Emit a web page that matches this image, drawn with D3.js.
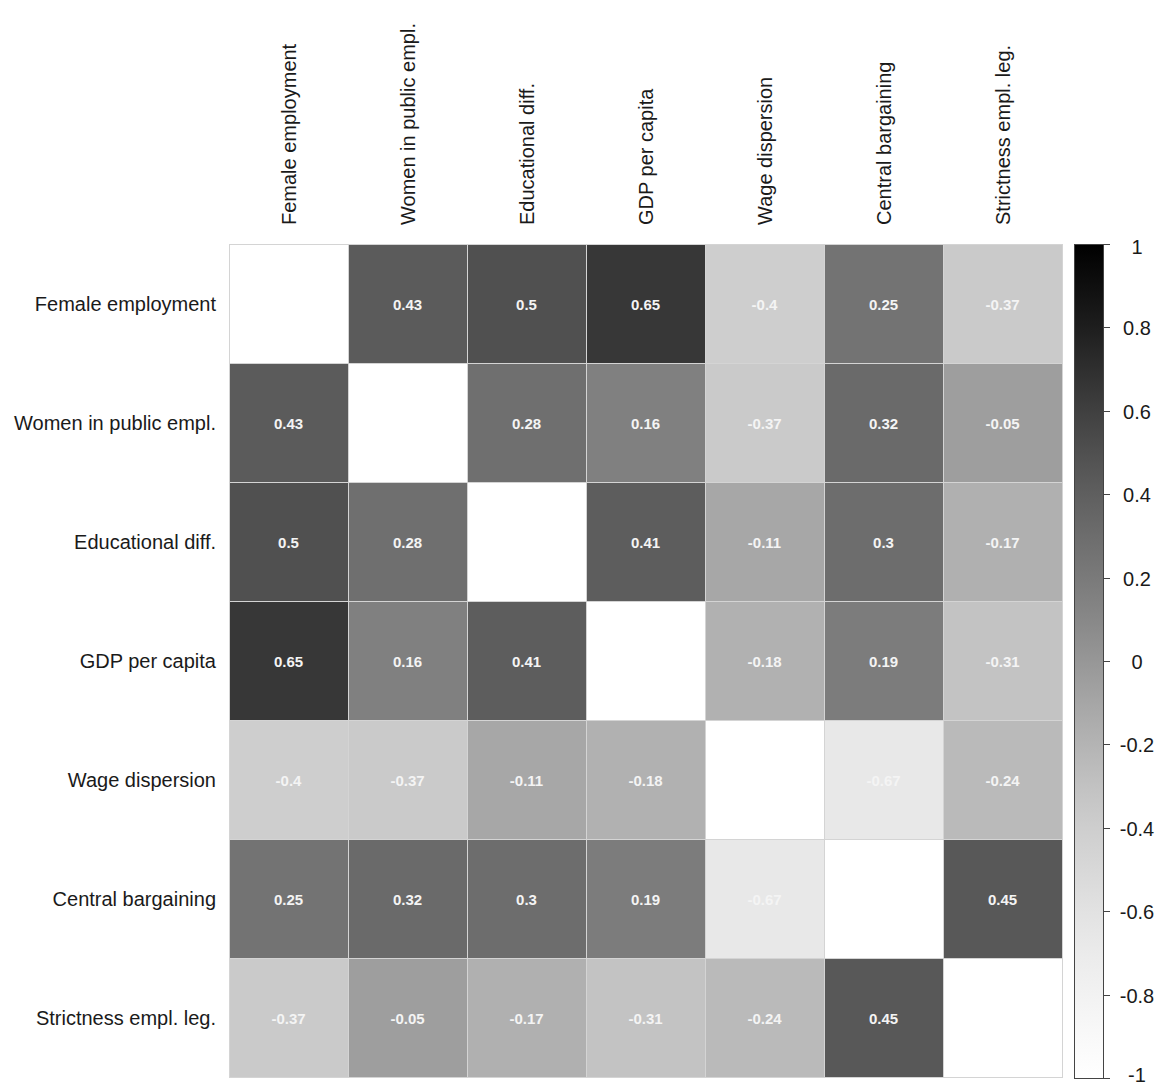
<!DOCTYPE html>
<html>
<head>
<meta charset="utf-8">
<script src="https://cdn.jsdelivr.net/npm/d3@7"></script>
<style>
  html, body { margin: 0; padding: 0; background: #fff; }
  svg { display: block; font-family: "Liberation Sans", Arial, sans-serif; }
</style>
</head>
<body>
<svg id="chart" width="1161" height="1086"></svg>
<script>
// Variables in the correlation matrix (same order for rows and columns)
const variables = [
  "Female employment",
  "Women in public empl.",
  "Educational diff.",
  "GDP per capita",
  "Wage dispersion",
  "Central bargaining",
  "Strictness empl. leg."
];

// Pairwise correlations; null on the diagonal (left blank)
const corr = [
  [null, 0.43, 0.5, 0.65, -0.4, 0.25, -0.37],
  [0.43, null, 0.28, 0.16, -0.37, 0.32, -0.05],
  [0.5, 0.28, null, 0.41, -0.11, 0.3, -0.17],
  [0.65, 0.16, 0.41, null, -0.18, 0.19, -0.31],
  [-0.4, -0.37, -0.11, -0.18, null, -0.67, -0.24],
  [0.25, 0.32, 0.3, 0.19, -0.67, null, 0.45],
  [-0.37, -0.05, -0.17, -0.31, -0.24, 0.45, null]
];

// Colour-bar tick values
const legendTicks = [1, 0.8, 0.6, 0.4, 0.2, 0, -0.2, -0.4, -0.6, -0.8, -1];

const svg = d3.select("#chart");

const grid = { left: 229, top: 244, size: 833 };

const x = d3.scaleBand().domain(variables).range([grid.left, grid.left + grid.size]);
const y = d3.scaleBand().domain(variables).range([grid.top, grid.top + grid.size]);
const color = d3.scaleSequential(d3.interpolateGreys).domain([-1, 1]);

// Cells
const cells = [];
corr.forEach((row, i) => row.forEach((v, j) => cells.push({ r: variables[i], c: variables[j], v })));

const g = svg.append("g");
g.selectAll("rect.cell")
  .data(cells)
  .join("rect")
  .attr("class", "cell")
  .attr("x", d => x(d.c) + 0.5)
  .attr("y", d => y(d.r) + 0.5)
  .attr("width", x.bandwidth())
  .attr("height", y.bandwidth())
  .attr("fill", d => d.v === null ? "#ffffff" : color(d.v))
  .attr("stroke", "#d4d4d4")
  .attr("stroke-width", 1);

// Coefficient labels
g.selectAll("text.val")
  .data(cells.filter(d => d.v !== null))
  .join("text")
  .attr("class", "val")
  .attr("x", d => x(d.c) + x.bandwidth() / 2)
  .attr("y", d => y(d.r) + y.bandwidth() / 2 + 1)
  .attr("dy", "0.35em")
  .attr("text-anchor", "middle")
  .attr("font-size", 15)
  .attr("font-weight", "bold")
  .attr("fill", "#f4f4f4")
  .text(d => String(d.v));

// Row labels
svg.append("g").selectAll("text")
  .data(variables)
  .join("text")
  .attr("x", 216)
  .attr("y", d => y(d) + y.bandwidth() / 2)
  .attr("dy", "0.35em")
  .attr("text-anchor", "end")
  .attr("font-size", 20)
  .attr("fill", "#1a1a1a")
  .text(d => d);

// Column labels (vertical)
svg.append("g").selectAll("text")
  .data(variables)
  .join("text")
  .attr("transform", d => `translate(${x(d) + x.bandwidth() / 2},225) rotate(-90)`)
  .attr("dy", "0.35em")
  .attr("text-anchor", "start")
  .attr("font-size", 20)
  .attr("fill", "#1a1a1a")
  .text(d => d);

// Colour bar
const bar = { x: 1074, w: 29, top: 244, bottom: 1078 };
const ly = d3.scaleLinear().domain([1, -1]).range([bar.top, bar.bottom]);

const defs = svg.append("defs");
const grad = defs.append("linearGradient")
  .attr("id", "corrGrad")
  .attr("x1", 0).attr("y1", 0).attr("x2", 0).attr("y2", 1);
d3.range(0, 1.0001, 0.05).forEach(t => {
  grad.append("stop")
    .attr("offset", t)
    .attr("stop-color", color(1 - 2 * t));
});

svg.append("rect")
  .attr("x", bar.x + 0.5)
  .attr("y", bar.top + 0.5)
  .attr("width", bar.w)
  .attr("height", bar.bottom - bar.top)
  .attr("fill", "url(#corrGrad)")
  .attr("stroke", "#444")
  .attr("stroke-width", 1);

const lg = svg.append("g");
lg.selectAll("line")
  .data(legendTicks)
  .join("line")
  .attr("x1", bar.x + bar.w)
  .attr("x2", bar.x + bar.w + 7)
  .attr("y1", d => Math.round(ly(d)) + 0.5)
  .attr("y2", d => Math.round(ly(d)) + 0.5)
  .attr("stroke", "#444");

lg.selectAll("text")
  .data(legendTicks)
  .join("text")
  .attr("x", 1137)
  .attr("y", d => ly(d) + (d === 1 ? 3 : d === -1 ? -3 : 1))
  .attr("dy", "0.35em")
  .attr("text-anchor", "middle")
  .attr("font-size", 20)
  .attr("fill", "#1a1a1a")
  .text(d => String(d));
</script>
</body>
</html>
